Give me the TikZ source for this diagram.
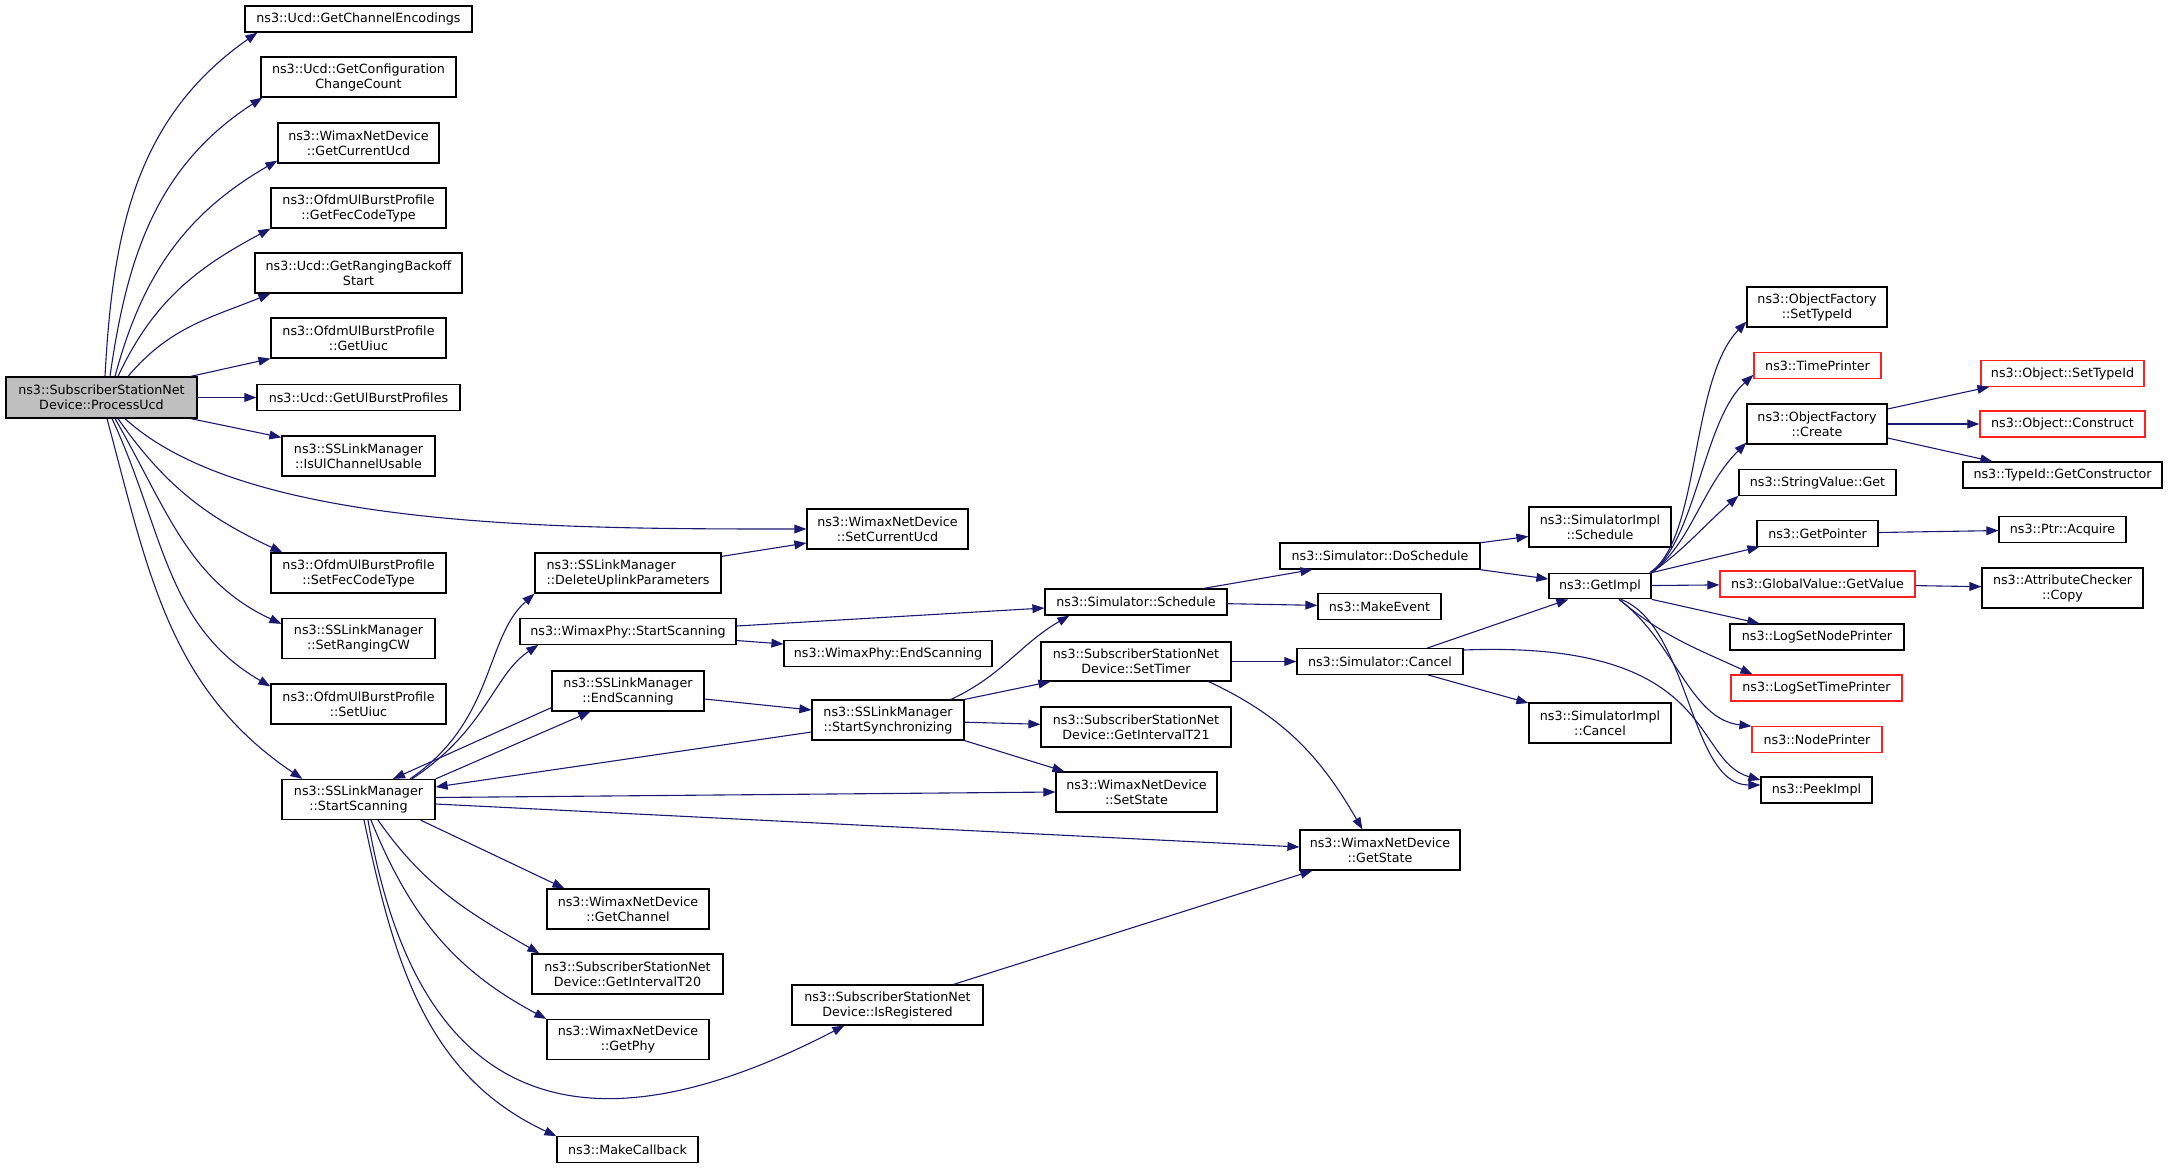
\documentclass[tikz,border=0pt]{standalone}
\usepackage{fontspec}
\setmainfont{DejaVu Sans}
\usepackage{tikz}
\usetikzlibrary{arrows.meta,shapes.geometric}
\definecolor{edgeblue}{HTML}{191970}
\definecolor{rootgray}{HTML}{BFBFBF}
\definecolor{hotred}{HTML}{FF2020}

\begin{document}
\begin{tikzpicture}
      [x=0.5pt, y=0.5pt,
      block/.style={rectangle, draw=black, line width=0.6pt, fill=white,
      align=center, inner sep=1pt, minimum height=12.75pt,
      font=\fontsize{6.35pt}{7.5pt}\selectfont},
      two/.style={minimum height=20pt},
      redblock/.style={block, draw=hotred},
      root/.style={block, two, fill=rootgray},
      line/.style={draw=edgeblue, line width=0.55pt,
      -{Triangle[length=6pt,width=4.4pt]}}]

      \useasboundingbox (0,0) rectangle (2168,-1168);

      % caller and first column
      \node [root, minimum width=95.5pt, minimum height=20.5pt] (processucd) at (101.5,-397.5) {ns3::SubscriberStationNet\\Device::ProcessUcd};
      \node [block, minimum width=113.5pt, minimum height=13pt] (getchanenc) at (358.5,-19) {ns3::Ucd::GetChannelEncodings};
      \node [block, two, minimum width=97.5pt] (getconfcount) at (358.5,-77) {ns3::Ucd::GetConfiguration\\ChangeCount};
      \node [block, two, minimum width=80.5pt] (getcurucd) at (358.5,-143) {ns3::WimaxNetDevice\\::GetCurrentUcd};
      \node [block, two, minimum width=87.5pt] (getfeccode) at (358.5,-208) {ns3::OfdmUlBurstProfile\\::GetFecCodeType};
      \node [block, two, minimum width=103.5pt] (getrangback) at (358.5,-273) {ns3::Ucd::GetRangingBackoff\\Start};
      \node [block, two, minimum width=87.5pt] (getuiuc) at (358.5,-338) {ns3::OfdmUlBurstProfile\\::GetUiuc};
      \node [block, minimum width=101.5pt] (getulburst) at (358.5,-397.5) {ns3::Ucd::GetUlBurstProfiles};
      \node [block, two, minimum width=76.5pt] (isulusable) at (358.5,-456) {ns3::SSLinkManager\\::IsUlChannelUsable};
      \node [block, two, minimum width=87.5pt] (setfeccode) at (358.5,-573) {ns3::OfdmUlBurstProfile\\::SetFecCodeType};
      \node [block, two, minimum width=76.5pt] (setrangcw) at (358.5,-638.5) {ns3::SSLinkManager\\::SetRangingCW};
      \node [block, two, minimum width=87.5pt] (setuiuc) at (358.5,-704) {ns3::OfdmUlBurstProfile\\::SetUiuc};
      \node [block, two, minimum width=76.5pt] (startscan) at (358.5,-799.5) {ns3::SSLinkManager\\::StartScanning};

      % second column
      \node [block, two, minimum width=93pt, align=left] (deluplink) at (628,-573) {ns3::SSLinkManager\\::DeleteUplinkParameters};
      \node [block, minimum width=108pt] (phystartscan) at (628,-631.5) {ns3::WimaxPhy::StartScanning};
      \node [block, two, minimum width=76pt] (endscan) at (628,-691) {ns3::SSLinkManager\\::EndScanning};
      \node [block, two, minimum width=81pt] (getchannel) at (628,-909) {ns3::WimaxNetDevice\\::GetChannel};
      \node [block, two, minimum width=95.5pt] (getint20) at (627.5,-974) {ns3::SubscriberStationNet\\Device::GetIntervalT20};
      \node [block, two, minimum width=81pt] (getphy) at (628,-1039.5) {ns3::WimaxNetDevice\\::GetPhy};
      \node [block, minimum width=70.5pt] (makecb) at (627.5,-1149.5) {ns3::MakeCallback};

      % third column
      \node [block, two, minimum width=80.5pt] (setcurucd) at (887.5,-529) {ns3::WimaxNetDevice\\::SetCurrentUcd};
      \node [block, minimum width=104pt] (physendscan) at (888,-653.5) {ns3::WimaxPhy::EndScanning};
      \node [block, two, minimum width=76pt] (startsync) at (888,-720) {ns3::SSLinkManager\\::StartSynchronizing};
      \node [block, two, minimum width=95.5pt] (isreg) at (887.5,-1005) {ns3::SubscriberStationNet\\Device::IsRegistered};

      % fourth column
      \node [block, minimum width=91pt, minimum height=13pt] (schedule) at (1136,-602) {ns3::Simulator::Schedule};
      \node [block, two, minimum width=95pt, minimum height=19.5pt] (settimer) at (1136,-661.5) {ns3::SubscriberStationNet\\Device::SetTimer};
      \node [block, two, minimum width=95pt] (getint21) at (1136,-727) {ns3::SubscriberStationNet\\Device::GetIntervalT21};
      \node [block, two, minimum width=80.5pt] (setstate) at (1136.5,-792) {ns3::WimaxNetDevice\\::SetState};

      % fifth column
      \node [block, minimum width=100pt, minimum height=13pt] (doschedule) at (1380,-556) {ns3::Simulator::DoSchedule};
      \node [block, minimum width=61.5pt] (makeevent) at (1379.5,-606.5) {ns3::MakeEvent};
      \node [block, minimum width=83pt] (cancel) at (1380,-661.5) {ns3::Simulator::Cancel};
      \node [block, two, minimum width=80pt] (getstate) at (1380,-850) {ns3::WimaxNetDevice\\::GetState};

      % sixth column
      \node [block, two, minimum width=71pt] (implschedule) at (1600,-527) {ns3::SimulatorImpl\\::Schedule};
      \node [block, minimum width=51pt] (getimpl) at (1600,-586) {ns3::GetImpl};
      \node [block, two, minimum width=71pt] (implcancel) at (1600,-723) {ns3::SimulatorImpl\\::Cancel};

      % seventh column
      \node [block, two, minimum width=70pt] (ofsettypeid) at (1817,-307) {ns3::ObjectFactory\\::SetTypeId};
      \node [redblock, minimum width=63.5pt] (timeprinter) at (1817.5,-365.5) {ns3::TimePrinter};
      \node [block, two, minimum width=70pt] (ofcreate) at (1817,-424) {ns3::ObjectFactory\\::Create};
      \node [block, minimum width=78.5pt] (strvalget) at (1817.5,-482.5) {ns3::StringValue::Get};
      \node [block, minimum width=60.5pt] (getpointer) at (1817.5,-533.5) {ns3::GetPointer};
      \node [redblock, minimum width=97.5pt, minimum height=13pt] (gvgetvalue) at (1817.5,-584) {ns3::GlobalValue::GetValue};
      \node [block, minimum width=87pt, minimum height=13pt] (logsetnode) at (1817,-637) {ns3::LogSetNodePrinter};
      \node [redblock, minimum width=85.5pt, minimum height=13pt] (logsettime) at (1816.5,-688) {ns3::LogSetTimePrinter};
      \node [redblock, minimum width=65pt] (nodeprinter) at (1817,-739.5) {ns3::NodePrinter};
      \node [block, minimum width=55.5pt, minimum height=13pt] (peekimpl) at (1816.5,-790) {ns3::PeekImpl};

      % last column
      \node [redblock, minimum width=81.5pt] (objsettypeid) at (2062.5,-373.5) {ns3::Object::SetTypeId};
      \node [redblock, minimum width=82.5pt, minimum height=13pt] (objconstruct) at (2062.5,-424) {ns3::Object::Construct};
      \node [block, minimum width=99.5pt, minimum height=13pt] (getconstructor) at (2062.5,-475) {ns3::TypeId::GetConstructor};
      \node [block, minimum width=63.5pt] (ptracquire) at (2062.5,-529.5) {ns3::Ptr::Acquire};
      \node [block, two, minimum width=80.5pt] (attrcopy) at (2062.5,-588) {ns3::AttributeChecker\\::Copy};

      \begin{scope}[every path/.style=line]
        % calls of ProcessUcd
        \path ([xshift=1.75pt]processucd.north) to[out=87,in=-145] ([xshift=6.5pt]getchanenc.south west);
        \path ([xshift=4.25pt]processucd.north) to[out=82,in=-147] ([xshift=1pt]getconfcount.south west);
        \path ([xshift=6.75pt]processucd.north) to[out=75,in=-150] ([yshift=1.5pt]getcurucd.south west);
        \path ([xshift=8.25pt]processucd.north) to[out=65,in=-152] (getfeccode.south west);
        \path ([xshift=13.25pt]processucd.north) to[out=50,in=-158] ([xshift=8pt]getrangback.south west);
        \path ([xshift=-3.5pt]processucd.north east) -- (getuiuc.south west);
        \path (processucd) -- (getulburst);
        \path ([xshift=-3.5pt]processucd.south east) -- ([yshift=-1pt]isulusable.north west);
        \path ([xshift=11.75pt]processucd.south) .. controls +(120,-110) and +(-250,0) .. (setcurucd.west);
        \path ([xshift=8.25pt]processucd.south) to[out=-55,in=155] ([xshift=6pt]setfeccode.north west);
        \path ([xshift=6.75pt]processucd.south) to[out=-60,in=155] ([yshift=-3pt]setrangcw.north west);
        \path ([xshift=5.25pt]processucd.south) to[out=-65,in=150] ([yshift=-1.5pt]setuiuc.north west);
        \path ([xshift=2.75pt]processucd.south) to[out=-75,in=146] ([xshift=10.5pt]startscan.north west);

        % calls of StartScanning
        \path ([xshift=25.75pt]startscan.north) .. controls +(85,58) and +(-50,-45) .. (deluplink.south west);
        \path ([xshift=26.75pt]startscan.north) .. controls +(75,50) and +(-45,-30) .. ([xshift=9.5pt]phystartscan.south west);
        \path ([yshift=2pt]endscan.south west) -- ([xshift=17.25pt]startscan.north);
        \path (startscan.north east) -- ([xshift=19.5pt]endscan.south west);
        \path ([yshift=-6pt]startsync.west) -- ([yshift=6.25pt]startscan.east);
        \path ([yshift=1pt]startscan.east) -- (setstate.west);
        \path ([yshift=-2.25pt]startscan.east) -- ([yshift=1.5pt]getstate.west);
        \path ([xshift=-7.5pt]startscan.south east) -- ([xshift=9pt]getchannel.north west);
        \path ([xshift=9.75pt]startscan.south) to[out=-55,in=150] ([xshift=4pt]getint20.north west);
        \path ([xshift=6.25pt]startscan.south) to[out=-68,in=152] (getphy.north west);
        \path ([xshift=2.75pt]startscan.south) to[out=-78,in=155] (makecb.north west);
        \path ([xshift=4.75pt]startscan.south) .. controls +(50,-291) and +(-260,-135) .. ([xshift=26.5pt]isreg.south west);

        % middle of the graph
        \path ([yshift=-2pt]deluplink.north east) -- ([yshift=-7pt]setcurucd.west);
        \path ([yshift=2.75pt]phystartscan.east) -- ([yshift=-3pt]schedule.west);
        \path ([yshift=-4.5pt]phystartscan.east) -- ([yshift=4.75pt]physendscan.west);
        \path ([yshift=-4pt]endscan.east) -- ([yshift=5pt]startsync.west);
        \path ([xshift=31.5pt]startsync.north) to[out=25,in=-150] ([xshift=12.5pt]schedule.south west);
        \path (startsync.north east) -- ([xshift=5pt]settimer.south west);
        \path (startsync) -- (getint21);
        \path (startsync.south east) -- ([xshift=4.5pt]setstate.north west);
        \path ([xshift=-12pt]schedule.north east) -- ([xshift=16.5pt]doschedule.south west);
        \path (schedule) -- (makeevent);
        \path (settimer) -- (cancel);
        \path ([xshift=-11.5pt]settimer.south east) to[out=-25,in=120] ([xshift=31.5pt]getstate.north west);
        \path ([xshift=33pt]isreg.north) -- ([xshift=6.5pt]getstate.south west);
        \path (doschedule) -- (implschedule);
        \path (doschedule) -- (getimpl);
        \path ([xshift=23.5pt]cancel.north) -- ([xshift=10pt]getimpl.south west);
        \path (cancel) -- (implcancel);
        \path ([yshift=5.75pt]cancel.east) .. controls +(256,10) and +(-70,20) .. ([yshift=5pt]peekimpl.west);

        % calls of GetImpl
        \path ([xshift=-1pt]getimpl.north east) .. controls +(51,33) and +(-57,-59) .. ([yshift=3pt]ofsettypeid.south west);
        \path (getimpl.north east) .. controls +(45,35) and +(-50,-45) .. ([yshift=2pt]timeprinter.south west);
        \path (getimpl.north east) .. controls +(40,30) and +(-45,-45) .. ([yshift=1pt]ofcreate.south west);
        \path (getimpl.north east) .. controls +(35,25) and +(-35,-30) .. (strvalget.south west);
        \path (getimpl.north east) -- ([xshift=1.5pt]getpointer.south west);
        \path (getimpl) -- (gvgetvalue);
        \path (getimpl.south east) -- ([xshift=15pt]logsetnode.north west);
        \path ([xshift=9.5pt]getimpl.south) to[out=-40,in=155] ([xshift=11pt]logsettime.north west);
        \path ([xshift=9.5pt]getimpl.south) .. controls +(56,-42) and +(-62,7) .. (nodeprinter.north west);
        \path ([xshift=10.5pt]getimpl.south) .. controls +(69,-27) and +(-71,0) .. ([yshift=2.5pt]peekimpl.west);

        % right part
        \path ([yshift=7.5pt]ofcreate.east) -- ([xshift=4.5pt]objsettypeid.south west);
        \path (ofcreate) -- (objconstruct);
        \path ([yshift=-7pt]ofcreate.east) -- ([xshift=15pt]getconstructor.north west);
        \path (getpointer) -- (ptracquire);
        \path (gvgetvalue) -- (attrcopy);
      \end{scope}

      \end{tikzpicture}
\end{document}
